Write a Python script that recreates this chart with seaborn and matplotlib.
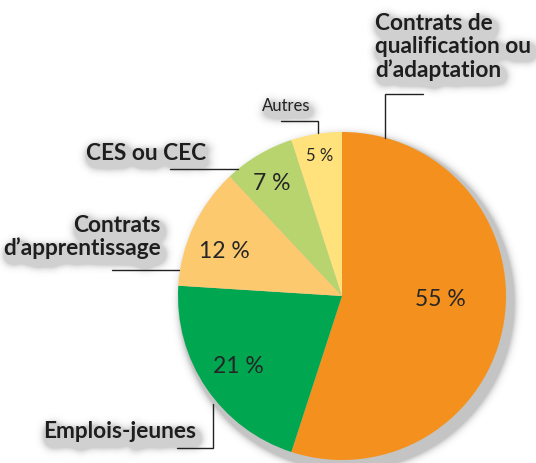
import matplotlib
matplotlib.use("Agg")
import matplotlib.pyplot as plt
import numpy as np
import seaborn as sns

sns.set_theme(style="white")
plt.rcParams["font.family"] = ["Lato", "DejaVu Sans"]

# Share of youth hires by contract type (%)
categories = ["Contrats de\nqualification ou\nd\u2019adaptation", "Emplois-jeunes",
              "Contrats\nd\u2019apprentissage", "CES ou CEC", "Autres"]
shares = [55, 21, 12, 7, 5]
pct_labels = [f"{v} %" for v in shares]
colors = ["#F4911E", "#00A650", "#FDC96F", "#B7D46E", "#FFE27C"]

W, H = 536, 464
fig = plt.figure(figsize=(W / 100, H / 100), dpi=100)
ax = fig.add_axes([0, 0, 1, 1])


def py(y):
    # pixel rows measured from the top
    return H - y


cx, cy, r = 342, py(297), 164

wedges, _ = ax.pie(shares, colors=colors, startangle=90, counterclock=False,
                   center=(cx, cy), radius=r, frame=True,
                   wedgeprops=dict(linewidth=0))
ax.set_xlim(0, W)
ax.set_ylim(0, H)
ax.set_aspect("equal")
ax.axis("off")

# percentage labels inside the slices
pct_pos = [(440, 300), (238, 367), (224, 252), (272, 183), (320, 156)]
pct_size = [16.5, 16.5, 16.5, 16.5, 12]
pct_texts = []
for lab, (x, y), fs in zip(pct_labels, pct_pos, pct_size):
    pct_texts.append(ax.text(x, py(y), lab, ha="center", va="center",
                             fontsize=fs, color="#262626"))

ann = dict(color="#1e1e1e", fontweight="bold", fontsize=16.3, linespacing=1.1)
labels = [
    ax.text(375, py(47), categories[0], ha="left", va="center", **ann),
    ax.text(196, py(432), categories[1], ha="right", va="center", **ann),
    ax.text(161, py(237), categories[2], ha="right", va="center", **ann),
    ax.text(206, py(153), categories[3], ha="right", va="center", **ann),
    ax.text(286, py(106), categories[4], ha="center", va="center", fontsize=12,
            color="#222222"),
]

# leader lines
lk = dict(color="#222222", linewidth=1.0, solid_joinstyle="miter")
lines = []
lines += ax.plot([423, 385, 385], [py(95), py(95), py(139)], **lk)
lines += ax.plot([281, 318, 318], [py(122), py(122), py(134)], **lk)
lines += ax.plot([170, 238], [py(170), py(170)], **lk)
lines += ax.plot([112, 179], [py(271), py(271)], **lk)
lines += ax.plot([177, 213, 213], [py(449), py(449), py(405)], **lk)


def coverage(visible):
    # alpha coverage of a chosen subset of artists on a transparent canvas
    everything = list(wedges) + pct_texts + labels + lines
    for a in everything:
        a.set_visible(a in visible)
    fig.patch.set_facecolor((1, 1, 1, 0))
    fig.canvas.draw()
    cov = np.asarray(fig.canvas.buffer_rgba())[..., 3].astype(float) / 255.0
    for a in everything:
        a.set_visible(True)
    fig.patch.set_facecolor((1, 1, 1, 1))
    return cov


def gauss_blur(img, sigma):
    rad = int(3 * sigma)
    k = np.exp(-0.5 * (np.arange(-rad, rad + 1) / sigma) ** 2)
    k /= k.sum()
    pad = np.pad(img, rad, mode="constant")
    tmp = np.apply_along_axis(lambda v: np.convolve(v, k, mode="valid"), 1, pad)
    return np.apply_along_axis(lambda v: np.convolve(v, k, mode="valid"), 0, tmp)


def shift(img, dx, dy):
    out = np.zeros_like(img)
    out[dy:, dx:] = img[:-dy, :-dx]
    return out


pie_soft = gauss_blur(shift(coverage(list(wedges)), 5, 7), 5.0)
txt_soft = gauss_blur(shift(coverage(labels), 3, 6), 5.0)
alpha = np.maximum(np.clip(pie_soft * 1.3, 0, 0.33),
                   np.clip(txt_soft * 2.4, 0, 0.26))

shadow = np.zeros(alpha.shape + (4,))
shadow[..., :3] = 0.3
shadow[..., 3] = alpha
ax.imshow(shadow, extent=(0, W, 0, H), origin="upper", zorder=-5,
          interpolation="nearest")
ax.set_xlim(0, W)
ax.set_ylim(0, H)

fig.savefig("out.png", dpi=100, facecolor="white")
